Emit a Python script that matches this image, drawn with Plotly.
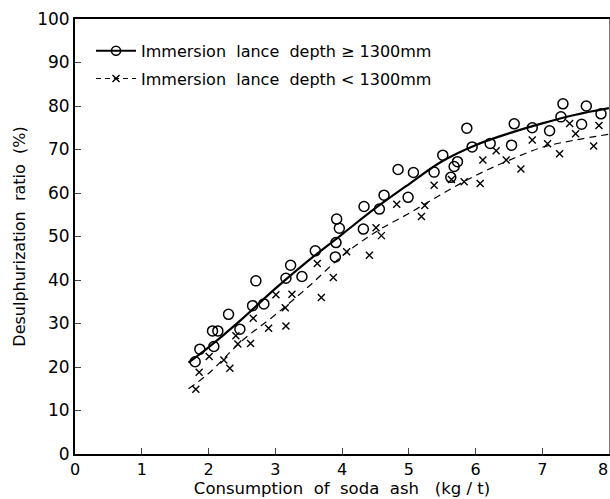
import plotly.graph_objects as go

# Observed data: immersion lance depth >= 1300 mm (circles)
deep_x = [1.80, 1.87, 2.08, 2.06, 2.14, 2.30, 2.47, 2.66, 2.83, 2.71, 3.16, 3.40, 3.23, 3.60,
          3.90, 3.91, 3.96, 3.92, 4.32, 4.33, 4.56, 4.63, 4.99, 4.84, 5.07, 5.38, 5.51, 5.63,
          5.68, 5.73, 5.87, 5.95, 6.22, 6.54, 6.58, 6.85, 7.11, 7.28, 7.31, 7.59, 7.66, 7.88]
deep_y = [21.2, 24.1, 24.7, 28.3, 28.3, 32.1, 28.7, 34.1, 34.5, 39.8, 40.4, 40.8, 43.4, 46.7,
          45.3, 48.6, 51.9, 54.0, 51.7, 56.9, 56.3, 59.5, 59.0, 65.4, 64.7, 64.8, 68.7, 63.6,
          66.1, 67.2, 74.9, 70.6, 71.4, 71.0, 75.9, 75.0, 74.3, 77.5, 80.5, 75.8, 80.0, 78.2]

# Observed data: immersion lance depth < 1300 mm (crosses)
shallow_x = [1.81, 1.86, 2.01, 2.23, 2.32, 2.41, 2.44, 2.63, 2.67, 2.90, 3.16, 3.15, 3.01, 3.25,
             3.63, 3.69, 3.87, 4.07, 4.41, 4.51, 4.59, 4.82, 5.19, 5.24, 5.38, 5.64, 5.83, 6.07,
             6.11, 6.31, 6.46, 6.68, 6.85, 7.08, 7.26, 7.41, 7.50, 7.77, 7.85]
shallow_y = [14.9, 18.8, 22.4, 21.6, 19.7, 27.2, 25.3, 25.4, 31.2, 28.9, 29.4, 33.6, 36.6, 36.7,
             43.8, 36.0, 40.6, 46.5, 45.7, 52.0, 50.2, 57.4, 54.6, 57.1, 61.8, 63.1, 62.6, 62.2,
             67.6, 69.7, 67.6, 65.5, 72.2, 71.3, 69.0, 76.0, 73.6, 70.8, 75.5]

# Fitted curves
fit_x = [1.7, 2.0, 2.5, 3.0, 3.5, 4.0, 4.5, 5.0, 5.5, 6.0, 6.5, 7.0, 7.5, 8.0]
fit_deep_y = [21.0, 24.5, 31.0, 38.0, 44.5, 50.5, 56.5, 62.0, 67.3, 71.0, 73.7, 76.0, 78.0, 79.5]
fit_shallow_y = [15.0, 18.5, 26.0, 32.0, 38.5, 45.5, 51.0, 55.3, 59.8, 64.0, 67.5, 70.5, 72.2, 73.5]

x_ticks = [0, 1, 2, 3, 4, 5, 6, 7, 8]
y_ticks = [0, 10, 20, 30, 40, 50, 60, 70, 80, 90, 100]

legend_labels = ["Immersion  lance  depth \u2265 1300mm", "Immersion  lance  depth < 1300mm"]

FONT = "DejaVu Sans"
fig = go.Figure()

fig.add_trace(go.Scatter(x=fit_x, y=fit_deep_y, mode="lines", line=dict(color="black", width=2.2, shape="spline"),
                         showlegend=False))
fig.add_trace(go.Scatter(x=fit_x, y=fit_shallow_y, mode="lines",
                         line=dict(color="black", width=1.2, dash="7px,5px", shape="spline"), showlegend=False))
fig.add_trace(go.Scatter(x=deep_x, y=deep_y, mode="markers",
                         marker=dict(symbol="circle-open", size=10, color="black", line=dict(width=1.5)),
                         showlegend=False))
fig.add_trace(go.Scatter(x=shallow_x, y=shallow_y, mode="markers",
                         marker=dict(symbol="x-thin", size=7, color="black", line=dict(width=1.4, color="black")),
                         showlegend=False))

# legend entries
fig.add_trace(go.Scatter(x=[None], y=[None], mode="lines+markers", name=legend_labels[0], legendgroup="a",
                         line=dict(color="black", width=2),
                         marker=dict(symbol="circle-open", size=9, color="black", line=dict(width=1.5))))
fig.add_trace(go.Scatter(x=[None], y=[None], mode="lines+markers", name=legend_labels[1], legendgroup="b",
                         line=dict(color="black", width=1.2, dash="5px,4px"),
                         marker=dict(symbol="x-thin", size=7, color="black", line=dict(width=1.4, color="black"))))
fig.add_trace(go.Scatter(x=[None], y=[None], yaxis="y2", showlegend=False))

fig.update_layout(
    template="none",
    width=610, height=499,
    margin=dict(l=75, r=1, t=19, b=45, autoexpand=False),
    paper_bgcolor="white", plot_bgcolor="white",
    font=dict(family=FONT, size=16, color="black"),
    legend=dict(x=0.03, y=0.966, xanchor="left", yanchor="top", bgcolor="rgba(0,0,0,0)",
                font=dict(size=16), itemwidth=40, tracegroupgap=4, traceorder="grouped"),
    xaxis=dict(range=[0, 8], tickvals=x_ticks, ticktext=[str(v) for v in x_ticks], automargin=False,
               showgrid=False, zeroline=False, showline=True, linecolor="black", linewidth=2,
               mirror=True, ticks="inside", ticklen=6, tickcolor="#444", tickwidth=1,
               tickfont=dict(size=16),
               title=dict(text="Consumption  of  soda  ash   (kg / t)", font=dict(size=16.5), standoff=0)),
    yaxis=dict(range=[0, 100], tickvals=y_ticks, ticktext=[str(v) for v in y_ticks], automargin=False,
               showgrid=False, zeroline=False, showline=True, linecolor="black", linewidth=2,
               ticks="inside", ticklen=6, tickcolor="#444", tickwidth=1,
               tickfont=dict(size=17),
               title=dict(text="Desulphurization  ratio  (%)", font=dict(size=16), standoff=8)),
    yaxis2=dict(range=[0, 100], overlaying="y", side="right", showline=True, linecolor="#777", automargin=False,
                linewidth=1, showticklabels=False, showgrid=False, zeroline=False, ticks=""),
)

# last x tick label, kept inside the page at the right edge
fig.add_annotation(x=x_ticks[-1], y=0, xref="x", yref="paper", text=str(x_ticks[-1]), showarrow=False,
                   xanchor="right", yanchor="top", yshift=-4, xshift=1, font=dict(size=16, family=FONT))

fig.write_html("out.html", config={"displayModeBar": False},
               post_script="document.body.style.margin='0';document.body.style.overflow='hidden';")
